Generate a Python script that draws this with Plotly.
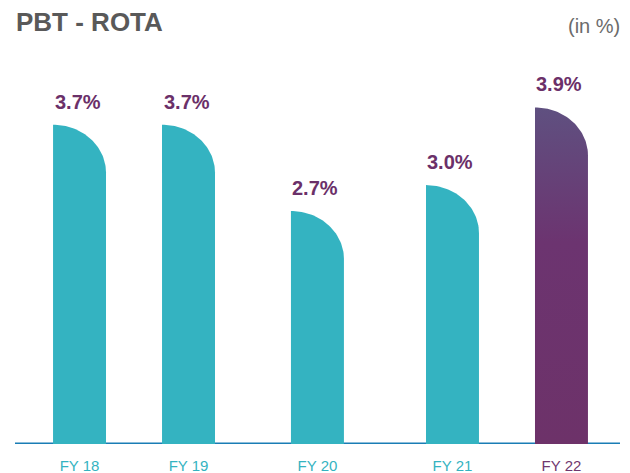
import numpy as np
import plotly.graph_objects as go

# ---- data ----
categories = ["FY 18", "FY 19", "FY 20", "FY 21", "FY 22"]
values = [3.7, 3.7, 2.7, 3.0, 3.9]
labels = ["3.7%", "3.7%", "2.7%", "3.0%", "3.9%"]

# ---- layout constants ----
X_POS = [0, 1, 2.183, 3.422, 4.422]   # irregular category spacing as in reference
BAR_W = 0.486
CAP_R_Y = 0.555                        # vertical radius of rounded cap (y units)
TEAL = "#34b3c1"
PURPLE = "#6c3269"
LABEL_PURPLE = "#6b3069"
TICK_PURPLE = "#70376e"
BASE_BLUE = "#1a7db5"
HIGHLIGHT = 4

fig = go.Figure()
t = np.linspace(0, np.pi / 2, 40)
for i, (xc, v) in enumerate(zip(X_POS, values)):
    x0, x1 = xc - BAR_W / 2, xc + BAR_W / 2
    cy = v - CAP_R_Y
    xs = [x0, x0] + list(x0 + BAR_W * np.sin(t)) + [x1, x0]
    ys = [0, v] + list(cy + CAP_R_Y * np.cos(t)) + [0, 0]
    tr = dict(x=xs, y=ys, mode="lines", fill="toself", line=dict(width=0),
              hoverinfo="skip", showlegend=False)
    if i == HIGHLIGHT:
        tr["fillcolor"] = PURPLE
        tr["fillgradient"] = dict(type="vertical",
                                  colorscale=[[0, "#6d3269"], [0.6, "#6c3470"], [1, "#5f5080"]])
    else:
        tr["fillcolor"] = TEAL
    fig.add_trace(go.Scatter(**tr))
    fig.add_annotation(x=xc, y=v, text=f"<b>{labels[i]}</b>", showarrow=False,
                       yanchor="bottom", yshift=10, xshift=-2,
                       font=dict(size=20, color=LABEL_PURPLE, family="Liberation Sans"))

ticktext = [f'<span style="color:{TICK_PURPLE if i == HIGHLIGHT else TEAL}">{c}</span>'
            for i, c in enumerate(categories)]

fig.add_shape(type="line", xref="paper", yref="y", x0=0, x1=1, y0=0, y1=0,
              line=dict(color=BASE_BLUE, width=3), layer="below")

fig.add_annotation(xref="paper", yref="paper", x=0, y=1, xanchor="left", yanchor="top",
                   text="<b>PBT - ROTA</b>", showarrow=False, yshift=-5, xshift=-1,
                   font=dict(size=26, color="#595959", family="Liberation Sans"))
fig.add_annotation(xref="paper", yref="paper", x=1, y=1, xanchor="right", yanchor="top",
                   text="(in %)", showarrow=False, yshift=-13, xshift=2,
                   font=dict(size=20, color="#6b6b6b", family="Liberation Sans"))

fig.update_layout(
    width=630, height=473,
    margin=dict(l=15, r=10, t=0, b=29),
    paper_bgcolor="white", plot_bgcolor="white",
    xaxis=dict(range=[-0.592, 4.959], tickvals=X_POS, ticktext=ticktext,
               showgrid=False, zeroline=False, showline=False, ticks="",
               ticklabelstandoff=11,
               tickfont=dict(size=15, family="Liberation Sans", color=TEAL)),
    yaxis=dict(range=[0, 5.145], visible=False),
)

fig.write_html("out.html", config={"displayModeBar": False},
               post_script="document.body.style.margin='0';document.body.style.overflow='hidden';")
